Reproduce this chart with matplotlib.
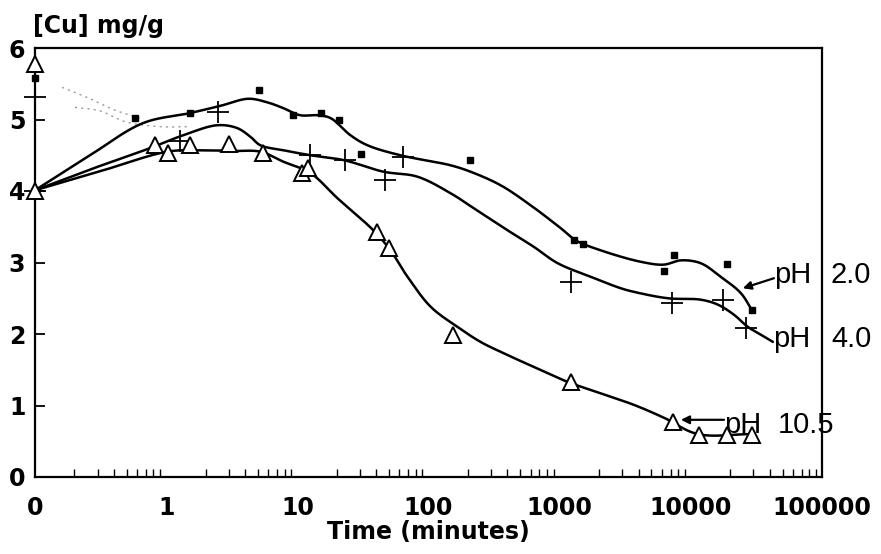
import numpy as np
import matplotlib
matplotlib.use("Agg")
import matplotlib.pyplot as plt

plt.rcParams['font.family'] = ['DejaVu Sans']

# ---------------- data ----------------
x_tick_values = [0, 1, 10, 100, 1000, 10000, 100000]
x_tick_labels = ["0", "1", "10", "100", "1000", "10000", "100000"]
y_tick_values = [0, 1, 2, 3, 4, 5, 6]

# measured points
ph2_t = [0, 0, 0.58, 1.52, 5.1, 9.2, 15.2, 20.6, 30.8, 209, 1280, 1500, 6200, 7400, 18800, 29500]
ph2_c = [4.0, 5.58, 5.02, 5.09, 5.41, 5.06, 5.09, 4.99, 4.52, 4.43, 3.31, 3.26, 2.88, 3.10, 2.98, 2.34]

ph4_t = [0, 0, 1.28, 2.5, 12.6, 22.9, 47, 64, 1210, 7160, 17500, 26300]
ph4_c = [4.0, 5.31, 4.70, 5.11, 4.50, 4.43, 4.15, 4.47, 2.73, 2.43, 2.47, 2.08]

ph105_t = [0, 0, 0.82, 1.03, 1.52, 3.03, 5.5, 10.9, 12.1, 40.8, 50.4, 155, 1210, 7300, 11500, 18800, 29500]
ph105_c = [4.0, 5.78, 4.64, 4.53, 4.64, 4.66, 4.53, 4.25, 4.32, 3.43, 3.20, 1.99, 1.33, 0.77, 0.59, 0.59, 0.59]

# fitted (hand-drawn) curves: knots
ph2_fit_t = [0.1, 0.258, 0.667, 1.52, 2.58, 4.23, 5.9, 7.8, 10.5, 14.2, 17.9, 25.4, 34.2, 61, 147, 209,
             355, 601, 1019, 1325, 2056, 4150, 6220, 8390, 11900, 16900, 24100, 29700]
ph2_fit_c = [4.01, 4.49, 4.95, 5.09, 5.19, 5.29, 5.24, 5.16, 5.06, 5.06, 5.02, 4.78, 4.64, 4.50, 4.36, 4.27,
             4.08, 3.80, 3.48, 3.31, 3.17, 3.01, 2.97, 3.03, 2.99, 2.80, 2.57, 2.31]

ph4_fit_t = [0.1, 0.272, 0.755, 1.35, 2.45, 3.48, 4.38, 5.22, 7.82, 12.6, 22.8, 45.3, 82.4, 147, 221, 401,
             634, 966, 1725, 2920, 3670, 6670, 11900, 16100, 21300, 27200, 34200, 42200]
ph4_fit_c = [4.01, 4.31, 4.60, 4.78, 4.92, 4.88, 4.76, 4.64, 4.57, 4.50, 4.43, 4.27, 4.20, 3.97, 3.76, 3.45,
             3.22, 2.99, 2.80, 2.64, 2.59, 2.50, 2.48, 2.41, 2.27, 2.10, 1.99, 1.89]

ph105_fit_t = [0.1, 0.319, 1.02, 1.82, 3.25, 5.22, 7.82, 12.6, 20.2, 38.0, 51.3, 69.2, 104, 166, 249, 355,
               634, 1151, 2056, 3670, 6220, 11300, 28700]
ph105_fit_c = [4.01, 4.28, 4.55, 4.57, 4.56, 4.55, 4.41, 4.25, 3.90, 3.45, 3.17, 2.80, 2.38, 2.10, 1.89, 1.75,
               1.54, 1.33, 1.17, 1.01, 0.83, 0.60, 0.60]

# faint dotted traces near the start
faint_a_t = [0.161, 0.263, 0.408, 0.634]
faint_a_c = [5.45, 5.29, 5.13, 5.02]
faint_b_t = [0.202, 0.313, 0.486, 0.90, 1.52]
faint_b_c = [5.17, 5.12, 4.97, 4.90, 4.90]

labels = ["pH", "pH", "pH"]
label_values = ["2.0", "4.0", "10.5"]

ZERO_POS = 0.1  # where t = 0 sits on the log axis


def xpos(t):
    t = np.asarray(t, dtype=float)
    return np.where(t <= 0, ZERO_POS, t)


def smooth(t, c, n=30, alpha=0.5):
    """Centripetal Catmull-Rom spline through knots in (log10 t, c) space."""
    lx = np.log10(xpos(t)) * 131.0
    y = np.asarray(c, dtype=float) * 71.5
    P = np.column_stack([lx, y])
    P = np.vstack([2 * P[0] - P[1], P, 2 * P[-1] - P[-2]])
    out = []
    for i in range(1, len(P) - 2):
        p0, p1, p2, p3 = P[i - 1], P[i], P[i + 1], P[i + 2]
        t0 = 0.0
        t1 = t0 + max(np.linalg.norm(p1 - p0), 1e-6) ** alpha
        t2 = t1 + max(np.linalg.norm(p2 - p1), 1e-6) ** alpha
        t3 = t2 + max(np.linalg.norm(p3 - p2), 1e-6) ** alpha
        tt = np.linspace(t1, t2, n, endpoint=False)[:, None]
        A1 = (t1 - tt) / (t1 - t0) * p0 + (tt - t0) / (t1 - t0) * p1
        A2 = (t2 - tt) / (t2 - t1) * p1 + (tt - t1) / (t2 - t1) * p2
        A3 = (t3 - tt) / (t3 - t2) * p2 + (tt - t2) / (t3 - t2) * p3
        B1 = (t2 - tt) / (t2 - t0) * A1 + (tt - t0) / (t2 - t0) * A2
        B2 = (t3 - tt) / (t3 - t1) * A2 + (tt - t1) / (t3 - t1) * A3
        C = (t2 - tt) / (t2 - t1) * B1 + (tt - t1) / (t2 - t1) * B2
        out.append(C)
    out.append(P[-2][None, :])
    out = np.vstack(out)
    return 10 ** (out[:, 0] / 131.0), out[:, 1] / 71.5


W, H = 881, 554
fig = plt.figure(figsize=(W / 100, H / 100), dpi=100)
ax = fig.add_axes([35 / W, (H - 477) / H, (822 - 35) / W, (477 - 48) / H])

lw = 1.8
for ft, fc in [(ph2_fit_t, ph2_fit_c), (ph4_fit_t, ph4_fit_c), (ph105_fit_t, ph105_fit_c)]:
    sx, sy = smooth(ft, fc)
    ax.plot(sx, sy, color='black', lw=lw, zorder=2, solid_capstyle='round', clip_on=False)

for ft, fc in [(faint_a_t, faint_a_c), (faint_b_t, faint_b_c)]:
    sx, sy = smooth(ft, fc)
    ax.plot(sx, sy, color='#9a9a9a', lw=1.0, ls=(0, (1.5, 3)), zorder=1)

ax.plot(xpos(ph2_t), ph2_c, ls='none', marker='s', ms=4, color='black', zorder=4, clip_on=False)
ax.plot(xpos(ph4_t), ph4_c, ls='none', marker='+', ms=16, mew=1.3, color='black', zorder=4, clip_on=False)
ax.plot(xpos(ph105_t), ph105_c, ls='none', marker='^', ms=11, mew=1.4, mfc='white', mec='black',
        zorder=5, clip_on=False)

ax.set_xscale('log')
ax.set_xlim(0.1, 1e5)
ax.set_ylim(0, 6)

ax.set_xticks(xpos(x_tick_values))
ax.set_xticklabels(x_tick_labels)
minor = [m * 10.0 ** d for d in range(-1, 5) for m in range(2, 10)]
ax.set_xticks(minor, minor=True)
ax.xaxis.set_minor_formatter(matplotlib.ticker.NullFormatter())
ax.tick_params(axis='x', which='major', length=0, pad=14, labelsize=17)
ax.tick_params(axis='x', which='minor', direction='in', length=6, width=1.0)
ax.set_yticks(y_tick_values)
ax.tick_params(axis='y', which='major', direction='in', length=7, width=1.3, pad=7, labelsize=17)
ax.tick_params(top=False, right=False)
for lab in ax.get_xticklabels() + ax.get_yticklabels():
    lab.set_fontweight('bold')

for sp in ax.spines.values():
    sp.set_linewidth(1.6)

ax.set_xlabel("Time (minutes)", fontsize=17, fontweight='bold', labelpad=0)
fig.text(33 / W, 1 - 33 / H, "[Cu] mg/g", fontsize=17, fontweight='bold', ha='left', va='baseline')

# curve labels (positions in data coordinates)
lab_pos = [(43000, 2.71), (42200, 1.82), (17900, 0.62)]
val_pos = [(117000, 2.71), (117000, 1.82), (46100, 0.62)]
for (lx_, ly_), (vx_, vy_), t1, t2 in zip(lab_pos, val_pos, labels, label_values):
    ax.text(lx_, ly_, t1, fontsize=21, ha='left', va='baseline', family='Liberation Sans', clip_on=False)
    ax.text(vx_, vy_, t2, fontsize=21, ha='left', va='baseline', family='Liberation Sans', clip_on=False)

arrow_kw = dict(arrowstyle='-|>', color='black', lw=1.6, mutation_scale=12, shrinkA=0, shrinkB=0)
ax.annotate("", xy=(24900, 2.64), xytext=(43000, 2.78), arrowprops=arrow_kw, annotation_clip=False)
ax.annotate("", xy=(8400, 0.80), xytext=(17900, 0.80), arrowprops=arrow_kw, annotation_clip=False)

fig.savefig("out.png", dpi=100)
